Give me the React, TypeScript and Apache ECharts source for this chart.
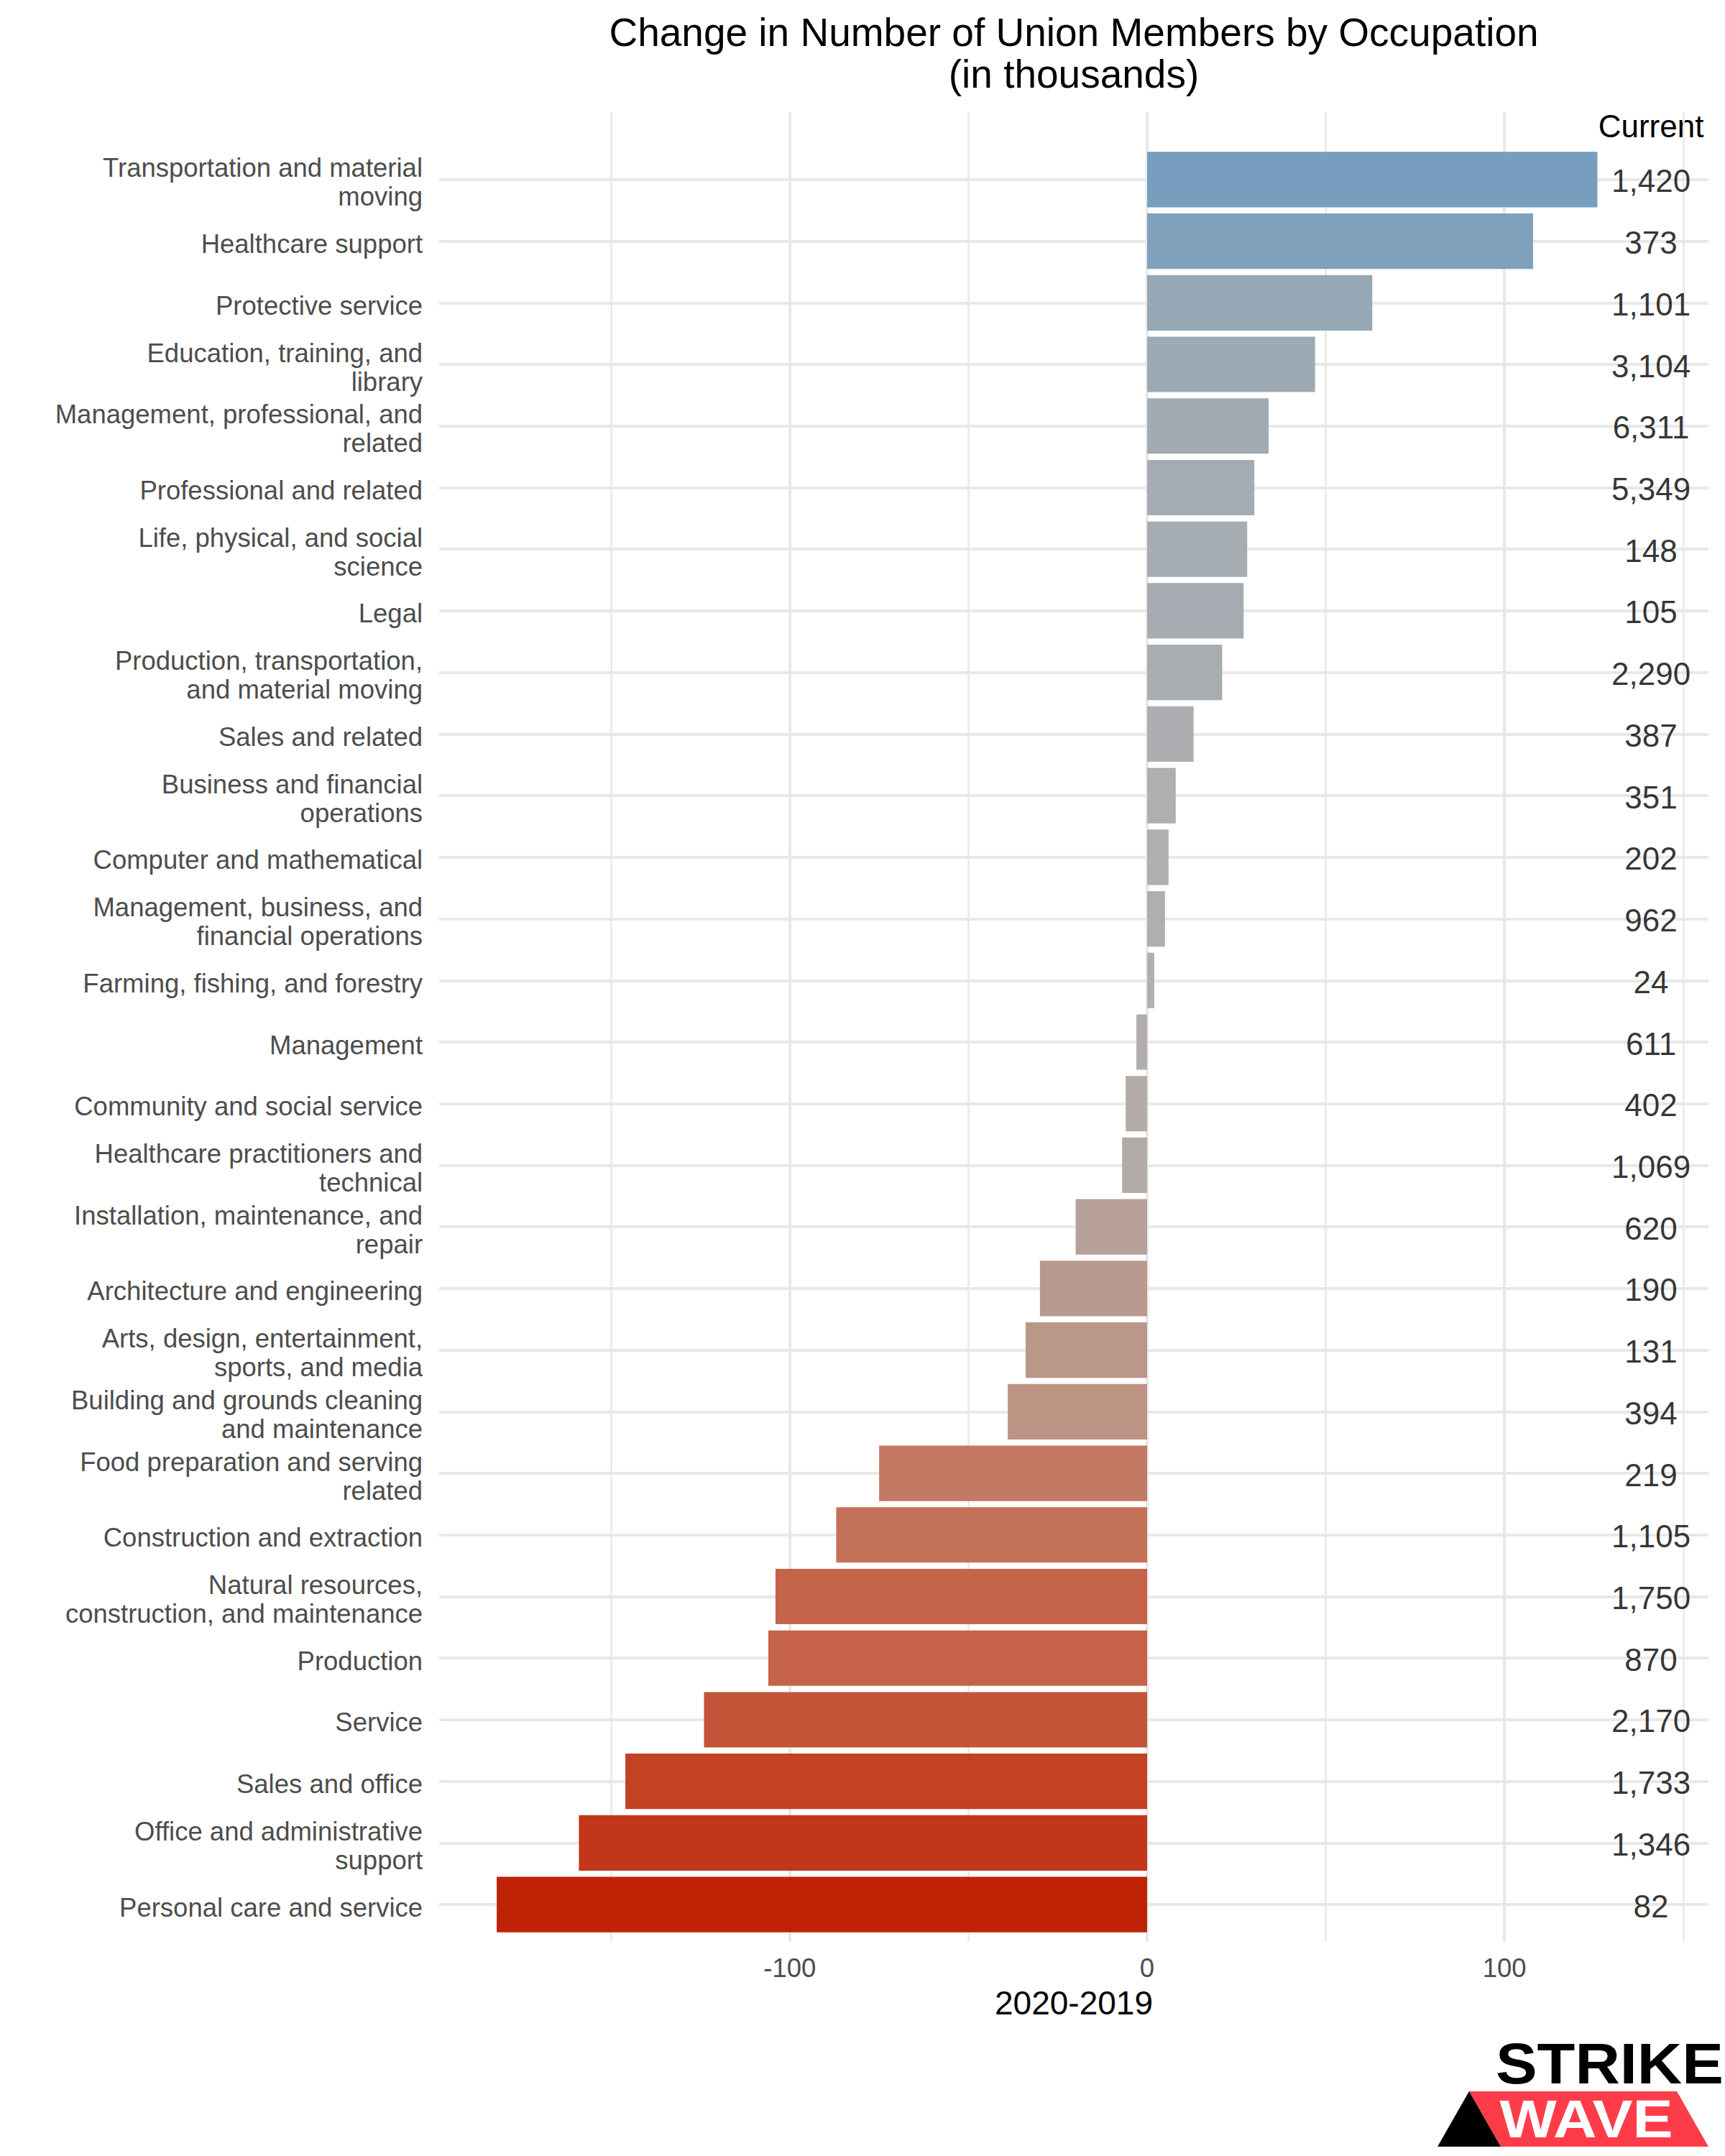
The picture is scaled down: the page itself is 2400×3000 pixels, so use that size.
import React, { useEffect, useRef } from "react";
import * as echarts from "echarts";

// ---------------- DATA ----------------
const CATEGORIES: string[] = [
  "Transportation and material\nmoving",
  "Healthcare support",
  "Protective service",
  "Education, training, and\nlibrary",
  "Management, professional, and\nrelated",
  "Professional and related",
  "Life, physical, and social\nscience",
  "Legal",
  "Production, transportation,\nand material moving",
  "Sales and related",
  "Business and financial\noperations",
  "Computer and mathematical",
  "Management, business, and\nfinancial operations",
  "Farming, fishing, and forestry",
  "Management",
  "Community and social service",
  "Healthcare practitioners and\ntechnical",
  "Installation, maintenance, and\nrepair",
  "Architecture and engineering",
  "Arts, design, entertainment,\nsports, and media",
  "Building and grounds cleaning\nand maintenance",
  "Food preparation and serving\nrelated",
  "Construction and extraction",
  "Natural resources,\nconstruction, and maintenance",
  "Production",
  "Service",
  "Sales and office",
  "Office and administrative\nsupport",
  "Personal care and service",
];

// change 2020-2019 (thousands)
const CHANGE: number[] = [
  126, 108, 63, 47, 34, 30, 28, 27, 21, 13, 8, 6, 5, 2, -3, -6, -7, -20, -30,
  -34, -39, -75, -87, -104, -106, -124, -146, -159, -182,
];

// current members (thousands)
const CURRENT: number[] = [
  1420, 373, 1101, 3104, 6311, 5349, 148, 105, 2290, 387, 351, 202, 962, 24,
  611, 402, 1069, 620, 190, 131, 394, 219, 1105, 1750, 870, 2170, 1733, 1346,
  82,
];

const X_LIMITS: [number, number] = [-198.1, 157.1]; // panel limits (expanded)
const MINOR_RANGE: [number, number] = [-150, 150];
const MAJOR_RANGE: [number, number] = [-100, 100];
const LABEL_X = 141; // x position of "Current" labels
const COLOR_DOMAIN: [number, number] = [-182, 182];
const COLOR_STOPS: string[] = [
  "#bf2205",
  "#c44a2c",
  "#c56e56",
  "#bf8e7d",
  "#b1b0b0",
  "#9ea9b3",
  "#88a3b9",
  "#729cc0",
  "#5e94c6",
];

// ---------------- LAYOUT ----------------
const W = 2400;
const H = 3000;
const ZERO_X = 1596;
const PX_PER_UNIT = 4.972;
const xpx = (v: number) => ZERO_X + v * PX_PER_UNIT;
const FONT = "Liberation Sans";
const GRID_COLOR = "#e8e8e8";
const BAR_TOP = 207;
const BAR_BOTTOM = 307;
const LABEL_SHIFT = 4;

export default function App() {
  const ref = useRef<HTMLDivElement>(null);

  useEffect(() => {
    if (!ref.current) return;
    const chart = echarts.init(ref.current, undefined, { renderer: "svg" });

    const option: any = {
      animation: false,
      backgroundColor: "#ffffff",
      textStyle: { fontFamily: FONT },
      title: {
        text: "Change in Number of Union Members by Occupation\n(in thousands)",
        left: 1494,
        top: 16,
        padding: 0,
        textAlign: "center",
        textStyle: {
          fontFamily: FONT,
          fontSize: 55,
          fontWeight: "normal",
          color: "#000000",
          lineHeight: 58,
        },
      },
      grid: [
        {
          left: xpx(MINOR_RANGE[0]),
          right: W - xpx(MINOR_RANGE[1]),
          top: 156,
          bottom: 298,
          containLabel: false,
        },
        {
          left: xpx(MAJOR_RANGE[0]),
          right: W - xpx(MAJOR_RANGE[1]),
          top: 156,
          bottom: 298,
          containLabel: false,
        },
        {
          left: xpx(X_LIMITS[0]),
          right: W - xpx(X_LIMITS[1]),
          top: BAR_TOP,
          bottom: BAR_BOTTOM,
          containLabel: false,
        },
        {
          left: xpx(X_LIMITS[0]),
          right: W - xpx(X_LIMITS[1]),
          top: BAR_TOP + LABEL_SHIFT,
          bottom: BAR_BOTTOM - LABEL_SHIFT,
          containLabel: false,
        },
      ],
      xAxis: [
        {
          gridIndex: 0,
          type: "value",
          min: MINOR_RANGE[0],
          max: MINOR_RANGE[1],
          interval: 50,
          axisLine: { show: false },
          axisTick: { show: false },
          axisLabel: { show: false },
          splitLine: {
            show: true,
            lineStyle: { color: GRID_COLOR, width: 2.5 },
          },
        },
        {
          gridIndex: 1,
          type: "value",
          min: MAJOR_RANGE[0],
          max: MAJOR_RANGE[1],
          interval: 100,
          axisLine: { show: false },
          axisTick: { show: false },
          axisLabel: {
            show: true,
            fontFamily: FONT,
            fontSize: 36.5,
            lineHeight: 36,
            color: "#4d4d4d",
            margin: 18,
          },
          splitLine: {
            show: true,
            lineStyle: { color: GRID_COLOR, width: 4 },
          },
        },
        {
          gridIndex: 2,
          type: "value",
          min: X_LIMITS[0],
          max: X_LIMITS[1],
          axisLine: { show: false },
          axisTick: { show: false },
          axisLabel: { show: false },
          splitLine: { show: false },
        },
        {
          gridIndex: 3,
          type: "value",
          min: X_LIMITS[0],
          max: X_LIMITS[1],
          show: false,
        },
      ],
      yAxis: [
        { gridIndex: 0, type: "value", min: 0, max: 1, show: false },
        { gridIndex: 1, type: "value", min: 0, max: 1, show: false },
        {
          gridIndex: 2,
          type: "category",
          data: CATEGORIES,
          inverse: true,
          axisLine: { show: false, onZero: false },
          axisTick: { show: false },
          splitLine: { show: false },
          axisLabel: { show: false },
        },
        {
          gridIndex: 3,
          type: "category",
          data: CATEGORIES,
          inverse: true,
          axisLine: { show: false, onZero: false },
          axisTick: { show: false },
          splitLine: { show: false },
          axisLabel: {
            interval: 0,
            fontFamily: FONT,
            fontSize: 36.5,
            lineHeight: 40,
            color: "#4d4d4d",
            margin: 23,
            align: "right",
          },
        },
      ],
      visualMap: {
        type: "continuous",
        show: false,
        seriesIndex: 0,
        dimension: 0,
        min: COLOR_DOMAIN[0],
        max: COLOR_DOMAIN[1],
        inRange: { color: COLOR_STOPS },
      },
      series: [
        {
          type: "bar",
          xAxisIndex: 2,
          yAxisIndex: 2,
          data: CATEGORIES.map((c, i) => [CHANGE[i], c]),
          encode: { x: 0, y: 1 },
          barWidth: "90%",
          silent: true,
          z: 2,
          markLine: {
            silent: true,
            z: 1,
            symbol: ["none", "none"],
            label: { show: false },
            lineStyle: { color: GRID_COLOR, width: 4, type: "solid" },
            emphasis: { disabled: true },
            data: CATEGORIES.map((c) => ({ yAxis: c })),
          },
        },
        {
          type: "scatter",
          xAxisIndex: 2,
          yAxisIndex: 2,
          data: CATEGORIES.map((c) => [LABEL_X, c]),
          symbolSize: 0,
          silent: true,
          z: 3,
          label: {
            show: true,
            position: "inside",
            offset: [0, 2],
            fontFamily: FONT,
            fontSize: 44,
            color: "#000000",
            formatter: (p: any) =>
              CURRENT[p.dataIndex].toLocaleString("en-US"),
          },
        },
      ],
      graphic: [
        {
          type: "text",
          x: 2297,
          y: 175,
          silent: true,
          style: {
            text: "Current",
            fontFamily: FONT,
            fontSize: 44,
            lineHeight: 48,
            fill: "#000000",
            align: "center",
            verticalAlign: "middle",
          },
        },
        {
          type: "text",
          x: 1494,
          y: 2787,
          silent: true,
          style: {
            text: "2020-2019",
            fontFamily: FONT,
            fontSize: 46,
            lineHeight: 50,
            fill: "#000000",
            align: "center",
            verticalAlign: "middle",
          },
        },
        // logo
        {
          type: "polygon",
          silent: true,
          shape: {
            points: [
              [2044, 2910],
              [2333, 2910],
              [2377, 2987],
              [2088, 2987],
            ],
          },
          style: { fill: "#fc3d49" },
        },
        {
          type: "polygon",
          silent: true,
          shape: {
            points: [
              [2044, 2910],
              [2088, 2987],
              [2000, 2987],
            ],
          },
          style: { fill: "#000000" },
        },
        {
          type: "text",
          x: 2081,
          y: 2872,
          scaleX: 1.08,
          silent: true,
          style: {
            text: "STRIKE",
            fontFamily: FONT,
            fontWeight: "bold",
            fontSize: 80,
            lineHeight: 60,
            fill: "#000000",
            align: "left",
            verticalAlign: "middle",
          },
        },
        {
          type: "text",
          x: 2207,
          y: 2948,
          scaleX: 1.12,
          silent: true,
          style: {
            text: "WAVE",
            fontFamily: FONT,
            fontWeight: "bold",
            fontSize: 75,
            lineHeight: 60,
            fill: "#ffffff",
            align: "center",
            verticalAlign: "middle",
          },
        },
      ],
    };

    chart.setOption(option);
    return () => chart.dispose();
  }, []);

  return (
    <div
      ref={ref}
      style={{ position: "absolute", left: 0, top: 0, width: W, height: H }}
    />
  );
}
